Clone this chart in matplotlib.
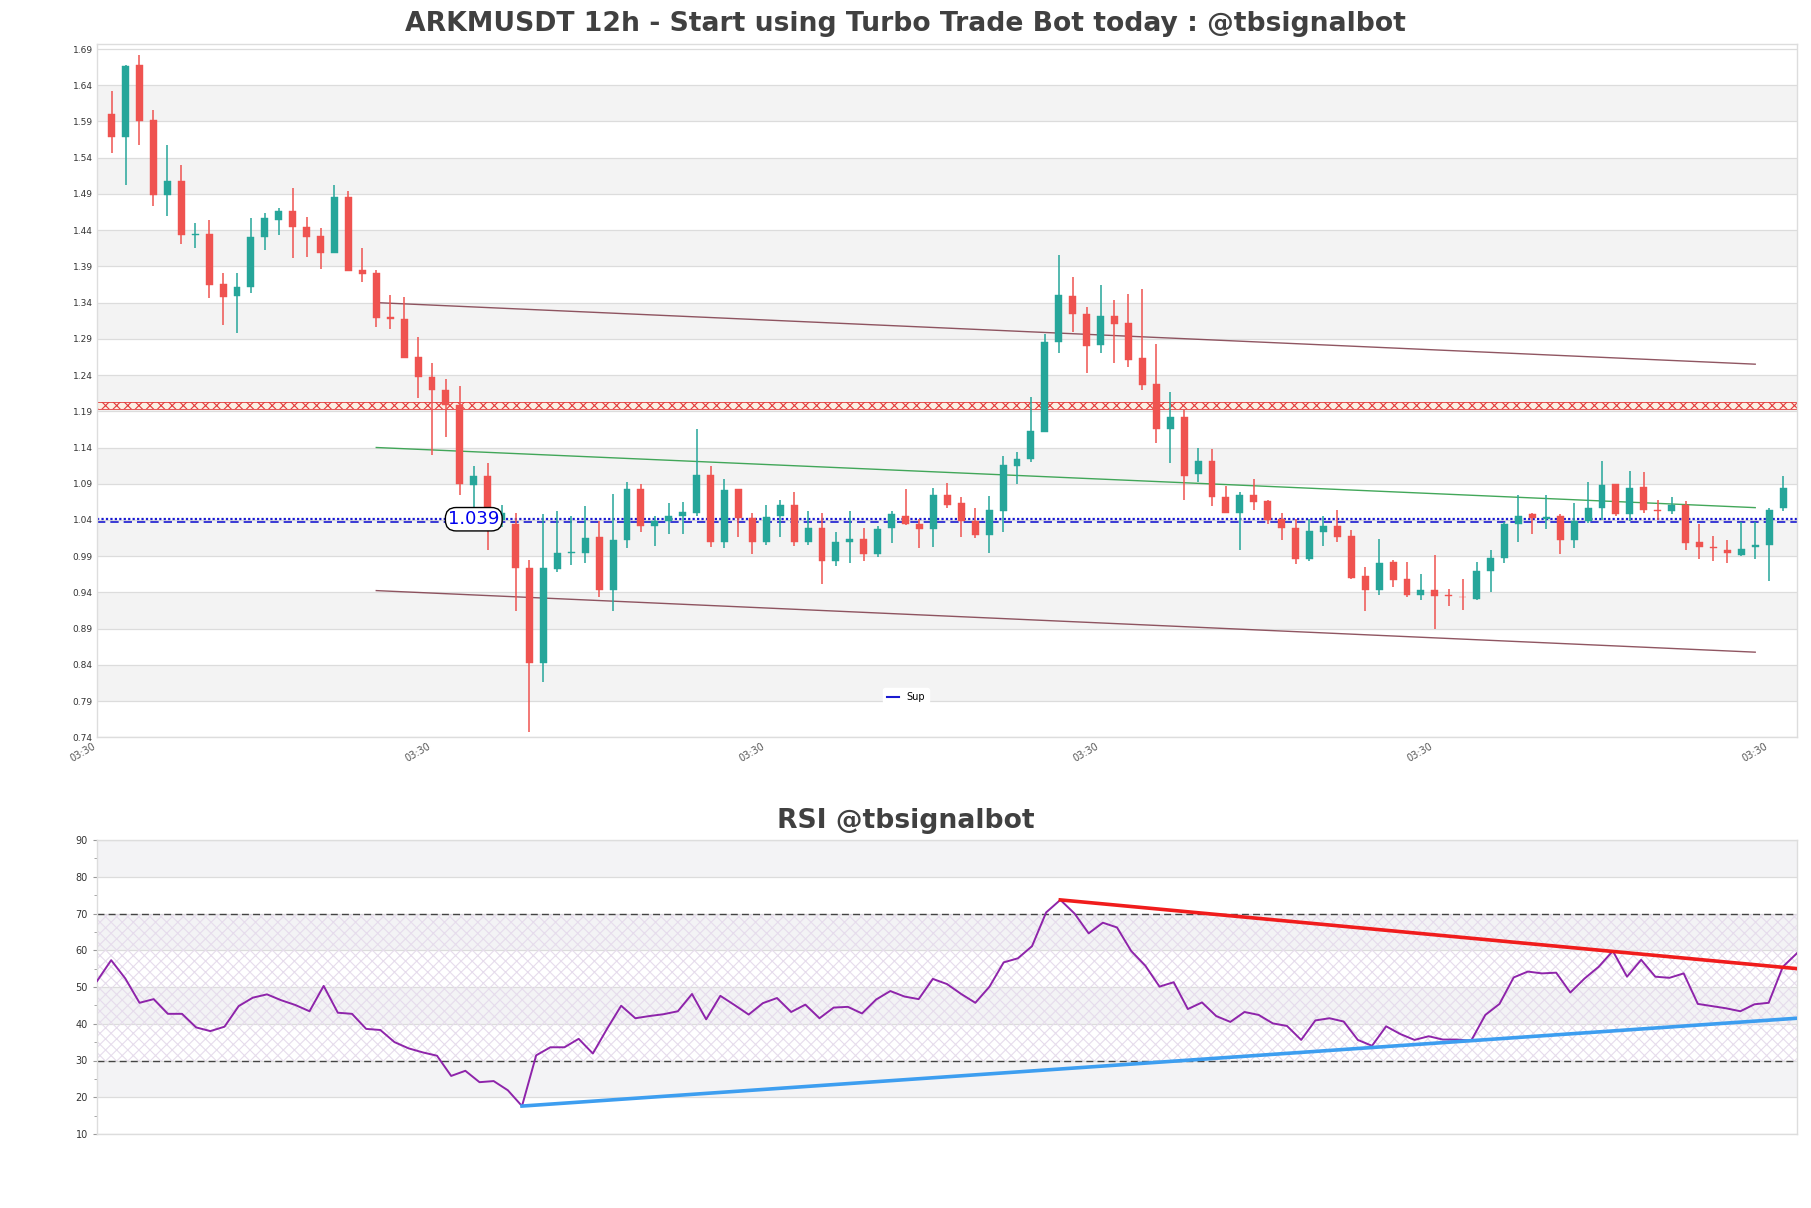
import matplotlib
matplotlib.use("Agg")
import matplotlib.pyplot as plt
import numpy as np
from matplotlib.ticker import MultipleLocator

# ---------------- data ----------------
opens = [1.601, 1.569, 1.668, 1.592, 1.489, 1.508, 1.434, 1.435, 1.366, 1.349,
         1.362, 1.431, 1.454, 1.466, 1.444, 1.432, 1.409, 1.486, 1.385, 1.381,
         1.320, 1.318, 1.265, 1.238, 1.219, 1.199, 1.088, 1.101, 1.040, 1.034,
         0.974, 0.843, 0.972, 0.994, 0.994, 1.016, 0.944, 1.013, 1.083, 1.031,
         1.038, 1.045, 1.049, 1.102, 1.009, 1.083, 1.043, 1.009, 1.045, 1.061,
         1.010, 1.029, 0.984, 1.009, 1.014, 0.993, 1.029, 1.046, 1.035, 1.028,
         1.074, 1.064, 1.039, 1.019, 1.053, 1.114, 1.124, 1.162, 1.285, 1.349,
         1.324, 1.282, 1.321, 1.312, 1.263, 1.228, 1.166, 1.182, 1.104, 1.121,
         1.072, 1.050, 1.074, 1.066, 1.041, 1.029, 0.986, 1.023, 1.032, 1.018,
         0.962, 0.943, 0.982, 0.959, 0.937, 0.944, 0.936, 0.934, 0.931, 0.969,
         0.988, 1.034, 1.048, 1.041, 1.046, 1.013, 1.038, 1.056, 1.089, 1.048,
         1.085, 1.054, 1.053, 1.060, 1.009, 1.002, 0.999, 0.992, 1.002, 1.006,
         1.056]
highs = [1.632, 1.668, 1.682, 1.606, 1.558, 1.530, 1.450, 1.454, 1.381, 1.381,
         1.457, 1.463, 1.471, 1.498, 1.458, 1.443, 1.503, 1.494, 1.416, 1.385,
         1.351, 1.348, 1.293, 1.256, 1.234, 1.225, 1.115, 1.118, 1.060, 1.049,
         0.985, 1.048, 1.053, 1.045, 1.059, 1.039, 1.076, 1.092, 1.089, 1.046,
         1.064, 1.065, 1.166, 1.114, 1.096, 1.083, 1.049, 1.061, 1.067, 1.079,
         1.053, 1.049, 1.023, 1.053, 1.029, 1.032, 1.053, 1.083, 1.042, 1.084,
         1.091, 1.071, 1.056, 1.073, 1.128, 1.134, 1.210, 1.296, 1.406, 1.376,
         1.334, 1.364, 1.344, 1.352, 1.359, 1.283, 1.217, 1.193, 1.139, 1.138,
         1.087, 1.079, 1.096, 1.068, 1.049, 1.042, 1.042, 1.045, 1.054, 1.026,
         0.975, 1.014, 0.985, 0.982, 0.966, 0.992, 0.945, 0.959, 0.982, 0.999,
         1.037, 1.074, 1.050, 1.074, 1.048, 1.063, 1.093, 1.121, 1.089, 1.108,
         1.106, 1.067, 1.071, 1.066, 1.034, 1.018, 1.012, 1.037, 1.037, 1.057,
         1.101]
lows = [1.547, 1.503, 1.558, 1.473, 1.459, 1.421, 1.416, 1.346, 1.309, 1.298,
        1.353, 1.413, 1.433, 1.402, 1.403, 1.387, 1.408, 1.383, 1.369, 1.307,
        1.303, 1.264, 1.208, 1.129, 1.154, 1.074, 1.053, 0.998, 1.030, 0.915,
        0.748, 0.817, 0.968, 0.978, 0.981, 0.934, 0.915, 1.001, 1.023, 1.004,
        1.020, 1.020, 1.046, 1.002, 1.001, 1.016, 0.993, 1.006, 1.016, 1.004,
        1.006, 0.951, 0.976, 0.980, 0.984, 0.989, 1.008, 1.033, 1.001, 1.003,
        1.056, 1.017, 1.015, 0.994, 1.023, 1.089, 1.120, 1.162, 1.271, 1.300,
        1.243, 1.271, 1.256, 1.251, 1.220, 1.146, 1.118, 1.067, 1.093, 1.059,
        1.050, 0.999, 1.054, 1.034, 1.013, 0.979, 0.984, 1.004, 1.009, 0.958,
        0.915, 0.936, 0.948, 0.934, 0.929, 0.890, 0.921, 0.916, 0.929, 0.940,
        0.981, 1.009, 1.021, 1.028, 0.993, 1.001, 1.036, 1.040, 1.045, 1.039,
        1.049, 1.040, 1.048, 0.998, 0.986, 0.984, 0.981, 0.990, 0.986, 0.956,
        1.053]
closes = [1.569, 1.667, 1.591, 1.489, 1.508, 1.433, 1.435, 1.364, 1.348, 1.362,
          1.431, 1.457, 1.466, 1.444, 1.430, 1.408, 1.486, 1.383, 1.380, 1.319,
          1.318, 1.264, 1.237, 1.219, 1.198, 1.089, 1.101, 1.045, 1.050, 0.973,
          0.843, 0.973, 0.994, 0.995, 1.015, 0.943, 1.013, 1.083, 1.031, 1.038,
          1.046, 1.051, 1.102, 1.009, 1.081, 1.043, 1.009, 1.044, 1.061, 1.010,
          1.029, 0.984, 1.010, 1.014, 0.993, 1.028, 1.048, 1.034, 1.028, 1.074,
          1.061, 1.038, 1.019, 1.054, 1.116, 1.124, 1.163, 1.286, 1.351, 1.324,
          1.280, 1.321, 1.311, 1.261, 1.226, 1.166, 1.182, 1.101, 1.121, 1.071,
          1.050, 1.074, 1.065, 1.040, 1.029, 0.986, 1.025, 1.032, 1.017, 0.960,
          0.944, 0.980, 0.957, 0.937, 0.944, 0.935, 0.935, 0.933, 0.969, 0.988,
          1.035, 1.046, 1.043, 1.044, 1.013, 1.038, 1.057, 1.088, 1.048, 1.084,
          1.054, 1.053, 1.061, 1.008, 1.003, 1.001, 0.994, 1.000, 1.006, 1.054,
          1.084]

rsi = [51.6, 57.3, 52.3, 45.7, 46.7, 42.7, 42.7, 39.0, 38.0, 39.2,
       44.8, 47.1, 48.0, 46.4, 45.1, 43.4, 50.3, 43.0, 42.7, 38.6,
       38.3, 35.0, 33.3, 32.2, 31.3, 25.8, 27.2, 24.1, 24.4, 21.9,
       17.6, 31.4, 33.6, 33.6, 35.9, 31.9, 38.6, 44.9, 41.5, 42.1,
       42.6, 43.4, 48.1, 41.2, 47.6, 45.1, 42.5, 45.6, 47.0, 43.2,
       45.2, 41.5, 44.4, 44.6, 42.8, 46.6, 48.9, 47.4, 46.7, 52.2,
       50.8, 48.1, 45.7, 50.1, 56.7, 57.8, 61.1, 70.3, 73.7, 70.0,
       64.6, 67.5, 66.2, 59.8, 55.8, 50.1, 51.3, 44.0, 45.8, 42.1,
       40.5, 43.2, 42.4, 40.1, 39.4, 35.6, 40.9, 41.5, 40.6, 35.6,
       34.0, 39.3, 37.2, 35.6, 36.6, 35.7, 35.7, 35.4, 42.4, 45.4,
       52.6, 54.2, 53.7, 53.9, 48.5, 52.3, 55.5, 59.8, 52.8, 57.4,
       52.8, 52.5, 53.7, 45.4, 44.8, 44.2, 43.4, 45.3, 45.7, 55.5,
       59.2]

y_ticks = [0.74, 0.79, 0.84, 0.89, 0.94, 0.99, 1.04, 1.09, 1.14, 1.19,
           1.24, 1.29, 1.34, 1.39, 1.44, 1.49, 1.54, 1.59, 1.64, 1.69]
x_tick_pos = [-1, 23, 47, 71, 95, 119]
x_tick_labels = ["03:30"] * 6

resistance_band = (1.193, 1.2025)
support_level = 1.039
support_dotted = 1.042
support_dashed = 1.037

upper_chan = ([19, 118], [1.340, 1.255])
mid_chan = ([19, 118], [1.140, 1.057])
lower_chan = ([19, 118], [0.9425, 0.8575])

rsi_res_line = ([68, 120], [73.7, 55.0])
rsi_sup_line = ([30, 120], [17.6, 41.5])

title_main = "ARKMUSDT 12h - Start using Turbo Trade Bot today : @tbsignalbot"
title_rsi = "RSI @tbsignalbot"

# ---------------- figure ----------------
plt.rcParams['font.family'] = ['DejaVu Sans']
plt.rcParams['hatch.linewidth'] = 0.8
W, H = 1811, 1208
fig = plt.figure(figsize=(W / 100, H / 100), dpi=100)
fig.patch.set_facecolor('white')

ax = fig.add_axes([97 / W, 1 - 737.3 / H, 1700 / W, (737.3 - 43.6) / H])
n = len(opens)
x = np.arange(n)
ax.set_xlim(-1.05, n)
ax.set_ylim(0.74, 1.6975)

# alternating bands
for k in range(len(y_ticks) - 1):
    if k % 2 == 1:
        ax.axhspan(y_ticks[k], y_ticks[k + 1], color='#f3f3f3', zorder=0, lw=0)
for yt in y_ticks:
    ax.axhline(yt, color='#dcdcdc', lw=0.9, zorder=0.5)

# resistance band
xs_full = [-1.05, n]
ax.fill_between(xs_full, resistance_band[0], resistance_band[1], facecolor='#fcefe4',
                edgecolor='#e23b3b', hatch='xxx', linewidth=0, zorder=1)
ax.axhline(resistance_band[0], color='#e23b3b', lw=0.6, zorder=1)
ax.axhline(resistance_band[1], color='#e23b3b', lw=0.6, zorder=1)
# support lines
ax.axhline(support_dotted, color='#1a1ad0', lw=1.6, ls=(0, (1, 1)), zorder=1)
ax.axhline(support_dashed, color='#1a1ad0', lw=1.2, ls=(0, (5, 3)), zorder=1)
ax.plot([], [], color='#1a1ad0', lw=1.5, label='Sup')

# channel lines
ax.plot(*upper_chan, color='#7d3846', lw=1.0, alpha=0.85, zorder=2)
ax.plot(*mid_chan, color='#2e9e48', lw=1.0, alpha=0.9, zorder=2)
ax.plot(*lower_chan, color='#7d3846', lw=1.0, alpha=0.85, zorder=2)

# candles
green, red = '#26a69a', '#ef5350'
for i in range(n):
    o, h, l, c = opens[i], highs[i], lows[i], closes[i]
    col = green if c >= o else red
    ax.vlines(x[i], l, h, color=col, lw=1.1, zorder=3)
    bot = min(o, c)
    hgt = max(abs(c - o), 0.0012)
    ax.bar(x[i], hgt, bottom=bot, width=0.5, color=col, edgecolor=col, lw=0.3, zorder=4)

ax.text(26.0, 1.041, "1.039", color='#0000ee', fontsize=13, ha='center', va='center', zorder=6,
        bbox=dict(boxstyle='round,pad=0.15,rounding_size=0.6', fc='white', ec='black', lw=1))

ax.set_yticks(y_ticks)
ax.set_yticklabels([f"{v:.2f}" for v in y_ticks], fontsize=6.5, color='#333333')
ax.set_xticks(x_tick_pos)
ax.set_xticklabels(x_tick_labels, rotation=30, ha='right', fontsize=7, color='#555555')
ax.tick_params(axis='both', length=0, pad=3)
for sp in ax.spines.values():
    sp.set_color('#dddddd')
    sp.set_linewidth(1)

leg = ax.legend(loc='lower center', bbox_to_anchor=(0.476, 0.038), fontsize=7,
                frameon=True, framealpha=1, edgecolor='white', handlelength=1.2)

fig.text(0.5, 1 - 24 / H, title_main, ha='center', va='center', fontsize=19.2,
         fontweight='bold', color='#404040')

# ---------------- RSI ----------------
ax2 = fig.add_axes([97 / W, 1 - 1134 / H, 1700 / W, (1134 - 840) / H])
xr = np.arange(len(rsi))
ax2.set_xlim(0, len(rsi) - 1)
ax2.set_ylim(10, 90)
for lo in [20, 40, 60, 80]:
    ax2.axhspan(lo, lo + 10, color='#f3f3f5', zorder=0, lw=0)
for yt in range(10, 100, 10):
    ax2.axhline(yt, color='#dcdcdc', lw=0.9, zorder=0.5)
ax2.fill_between([0, len(rsi) - 1], 30, 70, facecolor='none', edgecolor='#e6dcec',
                 hatch='xxx', linewidth=0, zorder=1)
ax2.axhline(70, color='#444444', lw=1.0, ls=(0, (5, 3)), zorder=2)
ax2.axhline(30, color='#444444', lw=1.0, ls=(0, (5, 3)), zorder=2)
ax2.plot(xr, rsi, color='#8e24aa', lw=1.4, zorder=3)
ax2.plot(*rsi_res_line, color='#f01c1c', lw=2.6, zorder=4)
ax2.plot(*rsi_sup_line, color='#3d9ef0', lw=2.6, zorder=4)

ax2.set_yticks(range(10, 100, 10))
ax2.yaxis.set_minor_locator(MultipleLocator(5))
ax2.tick_params(axis='y', which='major', labelsize=7, labelcolor='#333333', length=3,
                color='#999999')
ax2.tick_params(axis='y', which='minor', length=2, color='#999999')
ax2.set_xticks([])
for sp in ax2.spines.values():
    sp.set_color('#dddddd')
    sp.set_linewidth(1)

fig.text(0.5, 1 - 821 / H, title_rsi, ha='center', va='center', fontsize=19.2,
         fontweight='bold', color='#404040')

fig.savefig('out.png', dpi=100, facecolor='white')
